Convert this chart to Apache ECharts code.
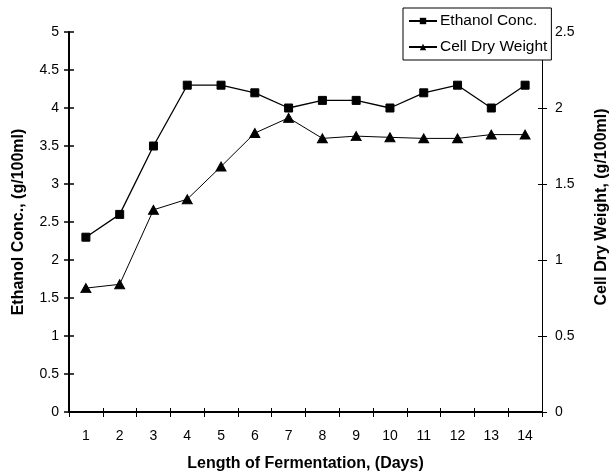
<!DOCTYPE html>
<html>
<head>
<meta charset="utf-8">
<script src="https://cdn.jsdelivr.net/npm/echarts@6/dist/echarts.min.js"></script>
<style>
html,body{margin:0;padding:0;background:#fff;}
#c{width:610px;height:475px;}
</style>
</head>
<body>
<div id="c"></div>
<script>
var days = ['1','2','3','4','5','6','7','8','9','10','11','12','13','14'];
var ethanolConc = [2.3, 2.6, 3.5, 4.3, 4.3, 4.2, 4.0, 4.1, 4.1, 4.0, 4.2, 4.3, 4.0, 4.3];
var cellDryWeight = [0.815, 0.84, 1.33, 1.4, 1.615, 1.835, 1.935, 1.8, 1.815, 1.807, 1.8, 1.8, 1.825, 1.825];
var leftTicks = {min: 0, max: 5, interval: 0.5};
var rightTicks = {min: 0, max: 2.5, interval: 0.5};
var seriesNames = ['Ethanol Conc.', 'Cell Dry Weight'];
var xTitle = 'Length of Fermentation, (Days)';
var leftTitle = 'Ethanol Conc., (g/100ml)';
var rightTitle = 'Cell Dry Weight, (g/100ml)';

var FONT = '"Liberation Sans", Arial, sans-serif';
var chart = echarts.init(document.getElementById('c'), null, {renderer: 'canvas'});

function fmt(v){ return String(v); }

var option = {
  animation: false,
  backgroundColor: '#fff',
  textStyle: {fontFamily: FONT, color: '#000'},
  grid: {left: 69, right: 68, top: 32, bottom: 63, containLabel: false, outerBoundsMode: 'none'},
  legend: {
    orient: 'vertical',
    left: 403, top: 8,
    padding: [5, 4, 5, 5],
    itemGap: 10,
    itemWidth: 28, itemHeight: 8,
    borderColor: '#000', borderWidth: 1, borderRadius: 0,
    backgroundColor: '#fff',
    textStyle: {fontFamily: FONT, fontSize: 15.5, color: '#000', padding: [0,0,0,-2]},
    data: seriesNames
  },
  xAxis: [{
    type: 'category',
    data: days,
    boundaryGap: true,
    name: xTitle,
    nameLocation: 'middle',
    nameGap: 44,
    nameTextStyle: {fontFamily: FONT, fontSize: 16, fontWeight: 'bold', color: '#000'},
    axisLine: {lineStyle: {color: '#000', width: 2}},
    axisTick: {show: true, length: 5, alignWithLabel: false, lineStyle: {color: '#000', width: 1}},
    axisLabel: {fontFamily: FONT, fontSize: 14, color: '#000', margin: 17, interval: 0},
    splitLine: {show: false}
  }, {
    type: 'category',
    data: days,
    boundaryGap: true,
    position: 'bottom',
    axisLine: {show: false},
    axisTick: {show: true, inside: true, length: 4, lineStyle: {color: '#000', width: 1}},
    axisLabel: {show: false},
    splitLine: {show: false}
  }],
  yAxis: [{
    type: 'value',
    position: 'left',
    min: leftTicks.min, max: leftTicks.max, interval: leftTicks.interval,
    name: leftTitle,
    nameLocation: 'middle',
    nameGap: 42,
    nameRotate: 90,
    nameTextStyle: {fontFamily: FONT, fontSize: 16, fontWeight: 'bold', color: '#000'},
    axisLine: {show: true, lineStyle: {color: '#000', width: 2}},
    axisTick: {show: true, length: 5, lineStyle: {color: '#000', width: 1.5}},
    axisLabel: {fontFamily: FONT, fontSize: 14, color: '#000', margin: 10, formatter: fmt},
    splitLine: {show: false}
  }, {
    type: 'value',
    position: 'right',
    min: rightTicks.min, max: rightTicks.max, interval: rightTicks.interval,
    name: rightTitle,
    nameLocation: 'middle',
    nameGap: 52,
    nameRotate: 90,
    nameTextStyle: {fontFamily: FONT, fontSize: 16, fontWeight: 'bold', color: '#000', padding: [0, 0, 0, 30]},
    axisLine: {show: true, lineStyle: {color: '#000', width: 1}},
    axisTick: {show: true, length: 5, lineStyle: {color: '#000', width: 1}},
    axisLabel: {fontFamily: FONT, fontSize: 14, color: '#000', margin: 13, formatter: fmt},
    splitLine: {show: false}
  }, {
    type: 'value',
    position: 'left',
    min: leftTicks.min, max: leftTicks.max, interval: leftTicks.interval,
    axisLine: {show: false},
    axisTick: {show: true, inside: true, length: 5, lineStyle: {color: '#000', width: 1.5}},
    axisLabel: {show: false},
    splitLine: {show: false}
  }, {
    type: 'value',
    position: 'right',
    min: rightTicks.min, max: rightTicks.max, interval: rightTicks.interval,
    axisLine: {show: false},
    axisTick: {show: true, inside: true, length: 4, lineStyle: {color: '#000', width: 1}},
    axisLabel: {show: false},
    splitLine: {show: false}
  }],
  series: [{
    name: seriesNames[0],
    type: 'line',
    xAxisIndex: 0, yAxisIndex: 0,
    data: ethanolConc,
    symbol: 'rect',
    symbolSize: 8,
    showAllSymbol: true,
    lineStyle: {color: '#000', width: 1.3},
    itemStyle: {color: '#000', borderColor: '#000'},
    z: 3
  }, {
    name: seriesNames[1],
    type: 'line',
    xAxisIndex: 0, yAxisIndex: 1,
    data: cellDryWeight,
    symbol: 'triangle',
    symbolSize: [10, 9],
    showAllSymbol: true,
    lineStyle: {color: '#000', width: 1},
    itemStyle: {color: '#000', borderColor: '#000'},
    z: 2
  }]
};
chart.setOption(option);
</script>
</body>
</html>
